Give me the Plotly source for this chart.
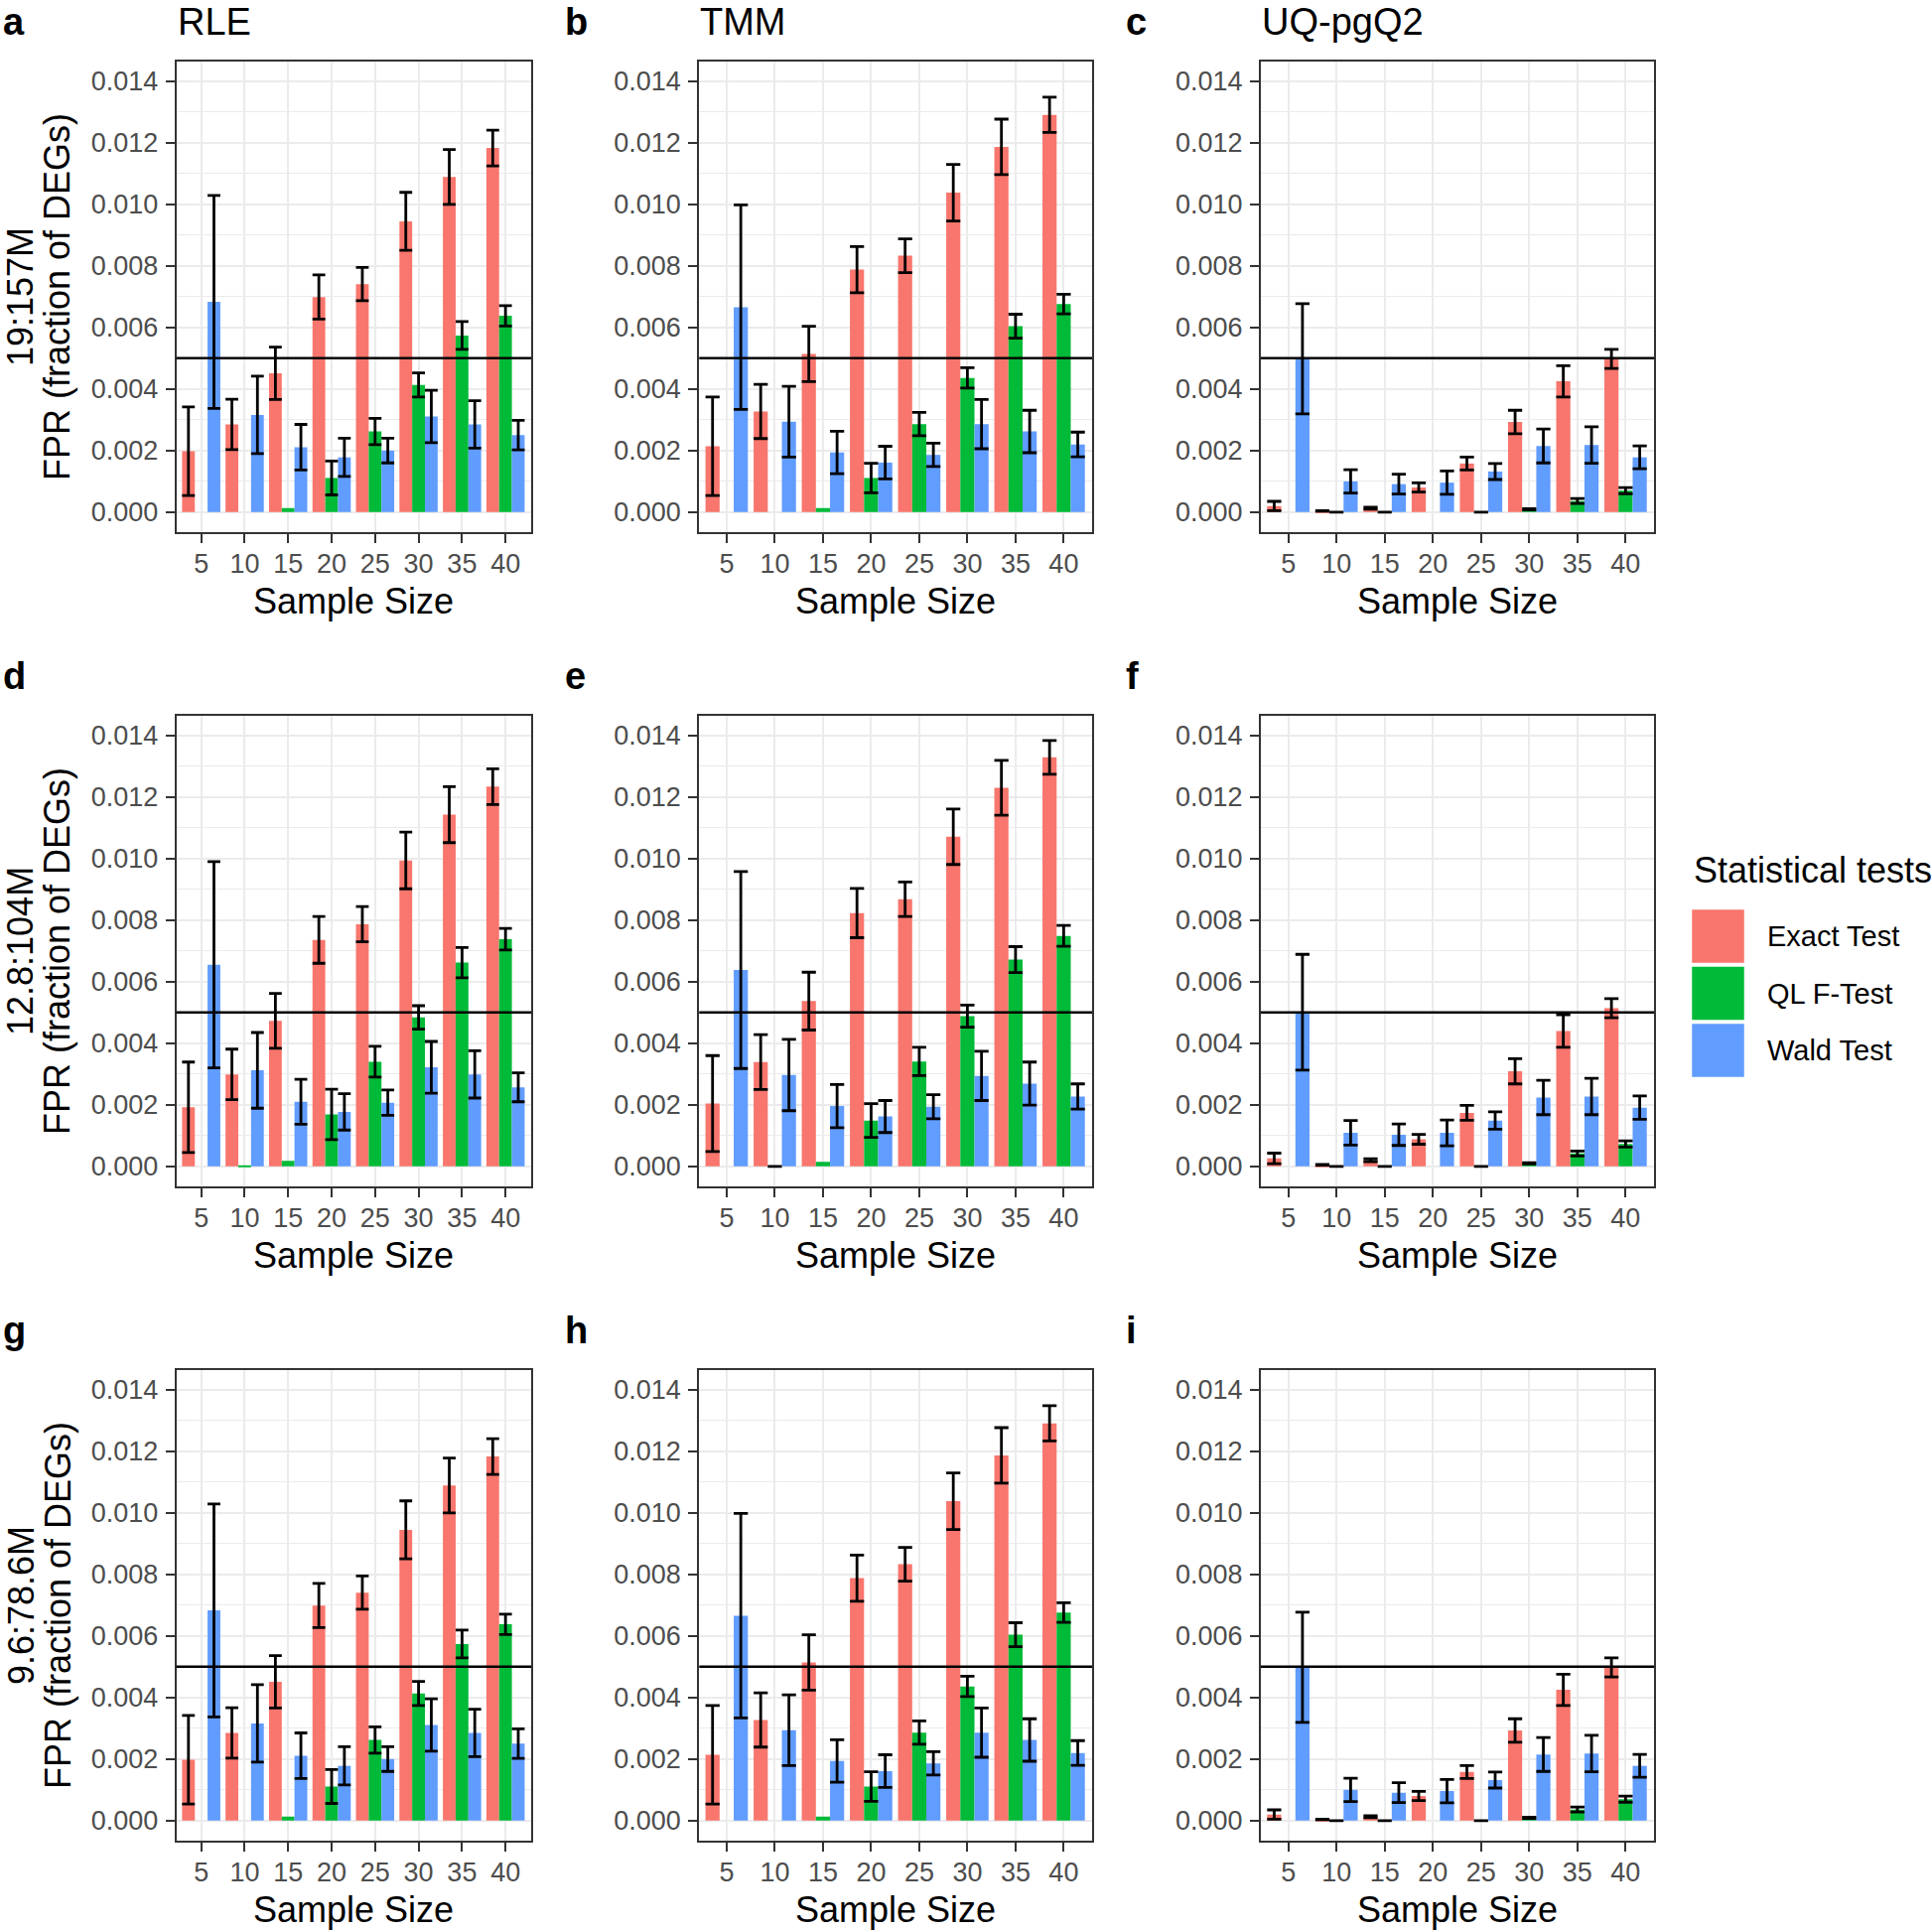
import plotly.graph_objects as go

# ---------------- data ----------------
SAMPLE_SIZES = [5, 10, 15, 20, 25, 30, 35, 40]
TESTS = ["Exact Test", "QL F-Test", "Wald Test"]
COLORS = ["#F8766D", "#00BA38", "#619CFF"]
METHODS = ["RLE", "TMM", "UQ-pgQ2"]
DEPTHS = ["19:157M", "12.8:104M", "9.6:78.6M"]
LETTERS = ["a", "b", "c", "d", "e", "f", "g", "h", "i"]
THRESHOLD = 0.005
Y_TICKS = [0.000, 0.002, 0.004, 0.006, 0.008, 0.010, 0.012, 0.014]

# panel a (RLE, 19:157M)
A_EXACT = [0.00198, 0.00285, 0.00451, 0.00699, 0.00741, 0.00945, 0.01089, 0.01183]
A_EXACT_SE = [0.00144, 0.00082, 0.00085, 0.00072, 0.00054, 0.00094, 0.00089, 0.00058]
A_QL = [None, None, 0.00013, 0.00111, 0.00262, 0.00413, 0.00574, 0.00638]
A_QL_SE = [None, None, None, 0.00055, 0.00043, 0.00039, 0.00045, 0.00033]
A_WALD = [0.00683, 0.00316, 0.00211, 0.00178, 0.00200, 0.00311, 0.00285, 0.00250]
A_WALD_SE = [0.00346, 0.00126, 0.00074, 0.00062, 0.00040, 0.00085, 0.00077, 0.00048]

# panel b (TMM, 19:157M)
B_EXACT = [0.00214, 0.00327, 0.00514, 0.00788, 0.00833, 0.01038, 0.01187, 0.01291]
B_EXACT_SE = [0.00160, 0.00088, 0.00090, 0.00075, 0.00055, 0.00092, 0.00090, 0.00057]
B_QL = [None, None, 0.00013, 0.00111, 0.00286, 0.00436, 0.00604, 0.00676]
B_QL_SE = [None, None, None, 0.00048, 0.00038, 0.00033, 0.00039, 0.00032]
B_WALD = [0.00666, 0.00294, 0.00194, 0.00161, 0.00186, 0.00286, 0.00262, 0.00220]
B_WALD_SE = [0.00332, 0.00115, 0.00069, 0.00053, 0.00038, 0.00080, 0.00069, 0.00040]

# panel c (UQ-pgQ2, 19:157M)
C_EXACT = [0.00020, 0.00004, 0.00013, 0.00080, 0.00158, 0.00293, 0.00425, 0.00498]
C_EXACT_SE = [0.00015, 0.00001, 0.00003, 0.00015, 0.00021, 0.00038, 0.00051, 0.00031]
C_QL = [None, 0.0, 0.0, None, 0.0, 0.00009, 0.00036, 0.00070]
C_QL_SE = [None, 0.0, 0.0, None, 0.0, 0.00002, 0.00008, 0.00010]
C_WALD = [0.00498, 0.00100, 0.00091, 0.00096, 0.00132, 0.00215, 0.00218, 0.00178]
C_WALD_SE = [0.00179, 0.00038, 0.00032, 0.00038, 0.00026, 0.00055, 0.00059, 0.00037]

# panel d (RLE, 12.8:104M)
D_EXACT = [0.00192, 0.00299, 0.00473, 0.00736, 0.00787, 0.00994, 0.01143, 0.01234]
D_EXACT_SE = [0.00147, 0.00082, 0.00089, 0.00076, 0.00057, 0.00092, 0.00091, 0.00058]
D_QL = [None, 0.00002, 0.00018, 0.00169, 0.00340, 0.00484, 0.00662, 0.00738]
D_QL_SE = [None, None, None, 0.00082, 0.00050, 0.00038, 0.00049, 0.00035]
D_WALD = [0.00655, 0.00312, 0.00210, 0.00177, 0.00207, 0.00322, 0.00299, 0.00257]
D_WALD_SE = [0.00335, 0.00123, 0.00073, 0.00059, 0.00041, 0.00084, 0.00077, 0.00047]

# panel e (TMM, 12.8:104M)
E_EXACT = [0.00204, 0.00339, 0.00537, 0.00823, 0.00868, 0.01071, 0.01230, 0.01329]
E_EXACT_SE = [0.00156, 0.00089, 0.00094, 0.00080, 0.00056, 0.00090, 0.00089, 0.00055]
E_QL = [None, 0.0, 0.00015, 0.00149, 0.00341, 0.00488, 0.00672, 0.00749]
E_QL_SE = [None, 0.0, None, 0.00055, 0.00046, 0.00036, 0.00042, 0.00034]
E_WALD = [0.00638, 0.00297, 0.00196, 0.00162, 0.00194, 0.00294, 0.00269, 0.00227]
E_WALD_SE = [0.00320, 0.00116, 0.00070, 0.00052, 0.00039, 0.00080, 0.00070, 0.00041]

# panel f (UQ-pgQ2, 12.8:104M)
F_EXACT = [0.00026, 0.00005, 0.00020, 0.00088, 0.00174, 0.00309, 0.00440, 0.00514]
F_EXACT_SE = [0.00017, 0.00001, 0.00005, 0.00016, 0.00024, 0.00041, 0.00053, 0.00031]
F_QL = [None, 0.0, 0.0, None, 0.0, 0.00010, 0.00042, 0.00073]
F_QL_SE = [None, 0.0, 0.0, None, 0.0, 0.00002, 0.00008, 0.00010]
F_WALD = [0.00501, 0.00109, 0.00103, 0.00109, 0.00149, 0.00224, 0.00227, 0.00191]
F_WALD_SE = [0.00188, 0.00040, 0.00035, 0.00042, 0.00028, 0.00056, 0.00059, 0.00038]

# panels g, h, i (9.6:78.6M) show the same values as the first row
G_EXACT, G_EXACT_SE, G_QL, G_QL_SE, G_WALD, G_WALD_SE = A_EXACT, A_EXACT_SE, A_QL, A_QL_SE, A_WALD, A_WALD_SE
H_EXACT, H_EXACT_SE, H_QL, H_QL_SE, H_WALD, H_WALD_SE = B_EXACT, B_EXACT_SE, B_QL, B_QL_SE, B_WALD, B_WALD_SE
I_EXACT, I_EXACT_SE, I_QL, I_QL_SE, I_WALD, I_WALD_SE = C_EXACT, C_EXACT_SE, C_QL, C_QL_SE, C_WALD, C_WALD_SE

PANEL_DATA = [
    ((A_EXACT, A_EXACT_SE), (A_QL, A_QL_SE), (A_WALD, A_WALD_SE)),
    ((B_EXACT, B_EXACT_SE), (B_QL, B_QL_SE), (B_WALD, B_WALD_SE)),
    ((C_EXACT, C_EXACT_SE), (C_QL, C_QL_SE), (C_WALD, C_WALD_SE)),
    ((D_EXACT, D_EXACT_SE), (D_QL, D_QL_SE), (D_WALD, D_WALD_SE)),
    ((E_EXACT, E_EXACT_SE), (E_QL, E_QL_SE), (E_WALD, E_WALD_SE)),
    ((F_EXACT, F_EXACT_SE), (F_QL, F_QL_SE), (F_WALD, F_WALD_SE)),
    ((G_EXACT, G_EXACT_SE), (G_QL, G_QL_SE), (G_WALD, G_WALD_SE)),
    ((H_EXACT, H_EXACT_SE), (H_QL, H_QL_SE), (H_WALD, H_WALD_SE)),
    ((I_EXACT, I_EXACT_SE), (I_QL, I_QL_SE), (I_WALD, I_WALD_SE)),
]

# ---------------- layout geometry (pixels) ----------------
W, H = 1946, 1945
COL_X = [(177.7, 535.0), (704.3, 1100.0), (1270.0, 1666.0)]
CELL_X = [0.0, 566.0, 1131.0]
ROW_TOP = [61.7, 720.7, 1379.7]
PANEL_H = 474.6
X_RANGE = [2.15, 42.95]
Y_RANGE = [-0.00066, 0.01465]
FONT = "Liberation Sans, Arial, Helvetica, sans-serif"
GRID = "#EBEBEB"
DARK = "#333333"
TICK_FONT = dict(size=27, color="#4D4D4D", family=FONT)


def px(x):
    return x / W


def py(y):
    return 1 - y / H


fig = go.Figure()
layout = {}
annotations = []
shapes = []

for idx, series in enumerate(PANEL_DATA):
    r, c = divmod(idx, 3)
    n = idx + 1
    xa = "x" if n == 1 else f"x{n}"
    ya = "y" if n == 1 else f"y{n}"
    x0, x1 = COL_X[c]
    top = ROW_TOP[r]
    bar_px = (x1 - x0) / (X_RANGE[1] - X_RANGE[0]) * 5 * 0.88 / 3

    # bars
    for t, (vals, se) in enumerate(series):
        fig.add_trace(go.Bar(
            x=SAMPLE_SIZES, y=vals, name=TESTS[t], offsetgroup=str(t + 1),
            marker=dict(color=COLORS[t], line=dict(width=0)),
            xaxis=xa, yaxis=ya, showlegend=False))
    # error bars (drawn on top of all bars)
    for t, (vals, se) in enumerate(series):
        yv = [v if (v is not None and s is not None) else None for v, s in zip(vals, se)]
        ev = [s if s is not None else 0 for s in se]
        fig.add_trace(go.Bar(
            x=SAMPLE_SIZES, y=yv, name=TESTS[t] + " SE", offsetgroup=str(t + 1),
            marker=dict(color="rgba(0,0,0,0)", line=dict(width=0)),
            error_y=dict(type="data", array=ev, symmetric=True, color="black",
                         thickness=2.8, width=bar_px / 2),
            xaxis=xa, yaxis=ya, showlegend=False, hoverinfo="skip"))

    layout["xaxis" if n == 1 else f"xaxis{n}"] = dict(
        domain=[px(x0), px(x1)], anchor=ya, range=X_RANGE,
        tickmode="linear", tick0=5, dtick=5,
        ticks="outside", ticklen=9, tickwidth=2, tickcolor=DARK,
        ticklabelstandoff=-3, tickfont=TICK_FONT,
        showgrid=True, gridcolor=GRID, gridwidth=2.2, zeroline=False,
        showline=True, linecolor=DARK, linewidth=2, mirror=True)
    layout["yaxis" if n == 1 else f"yaxis{n}"] = dict(
        domain=[py(top + PANEL_H), py(top)], anchor=xa, range=Y_RANGE,
        tickmode="array", tickvals=Y_TICKS, tickformat=".3f",
        ticks="outside", ticklen=9, tickwidth=2, tickcolor=DARK,
        ticklabelstandoff=2, tickfont=TICK_FONT,
        showgrid=True, gridcolor=GRID, gridwidth=2.2, zeroline=False,
        showline=True, linecolor=DARK, linewidth=2, mirror=True,
        minor=dict(tickmode="linear", tick0=0.001, dtick=0.002, showgrid=True,
                   gridcolor=GRID, gridwidth=1.1, ticks=""))

    # threshold line
    shapes.append(dict(type="line", xref=f"{xa} domain", x0=0, x1=1,
                       yref=ya, y0=THRESHOLD, y1=THRESHOLD,
                       line=dict(color="black", width=2.5), layer="above"))

    # x-axis title
    annotations.append(dict(text="Sample Size", xref="paper", yref="paper",
                            x=px((x0 + x1) / 2), y=py(top + PANEL_H + 69),
                            xanchor="center", yanchor="middle", showarrow=False,
                            font=dict(size=36, color="black", family=FONT)))
    # panel letter
    annotations.append(dict(text=f"<b>{LETTERS[idx]}</b>", xref="paper", yref="paper",
                            x=px(CELL_X[c] + 1), y=py(top - 40),
                            xanchor="left", yanchor="middle", showarrow=False,
                            font=dict(size=38, color="black", family=FONT)))
    # column titles (first row)
    if r == 0:
        annotations.append(dict(text=METHODS[c], xref="paper", yref="paper",
                                x=px(x0 - 1), y=py(top - 40),
                                xanchor="left", yanchor="middle", showarrow=False,
                                font=dict(size=38, color="black", family=FONT)))
    # row labels / y titles (first column)
    if c == 0:
        ymid = top + PANEL_H / 2
        annotations.append(dict(text=DEPTHS[r], xref="paper", yref="paper",
                                x=px(21), y=py(ymid), textangle=-90,
                                xanchor="center", yanchor="middle", showarrow=False,
                                font=dict(size=36, color="black", family=FONT)))
        annotations.append(dict(text="FPR (fraction of DEGs)", xref="paper", yref="paper",
                                x=px(58), y=py(ymid), textangle=-90,
                                xanchor="center", yanchor="middle", showarrow=False,
                                font=dict(size=36, color="black", family=FONT)))

# ---------------- legend (drawn manually) ----------------
LEG_X = 1703.5
annotations.append(dict(text="Statistical tests", xref="paper", yref="paper",
                        x=px(LEG_X), y=py(877), xanchor="left", yanchor="middle",
                        showarrow=False, font=dict(size=36, color="black", family=FONT)))
for t, name in enumerate(TESTS):
    ky0 = 915.5 + t * 57.5
    shapes.append(dict(type="rect", xref="paper", yref="paper",
                       x0=px(LEG_X), x1=px(LEG_X + 54), y0=py(ky0 + 55), y1=py(ky0),
                       fillcolor=COLORS[t], line=dict(color="white", width=1.5)))
    annotations.append(dict(text=name, xref="paper", yref="paper",
                            x=px(1778), y=py(ky0 + 27.5), xanchor="left", yanchor="middle",
                            showarrow=False, font=dict(size=29, color="black", family=FONT)))

fig.update_layout(
    width=W, height=H, autosize=False,
    margin=dict(l=0, r=0, t=0, b=0),
    paper_bgcolor="white", plot_bgcolor="white",
    barmode="group", bargap=0.12, bargroupgap=0,
    font=dict(family=FONT),
    showlegend=False,
    annotations=annotations, shapes=shapes,
    **layout)

fig.write_html(
    "out.html",
    config={"displayModeBar": False},
    post_script="document.body.style.margin='0';document.body.style.padding='0';"
                "document.body.style.overflow='hidden';")
